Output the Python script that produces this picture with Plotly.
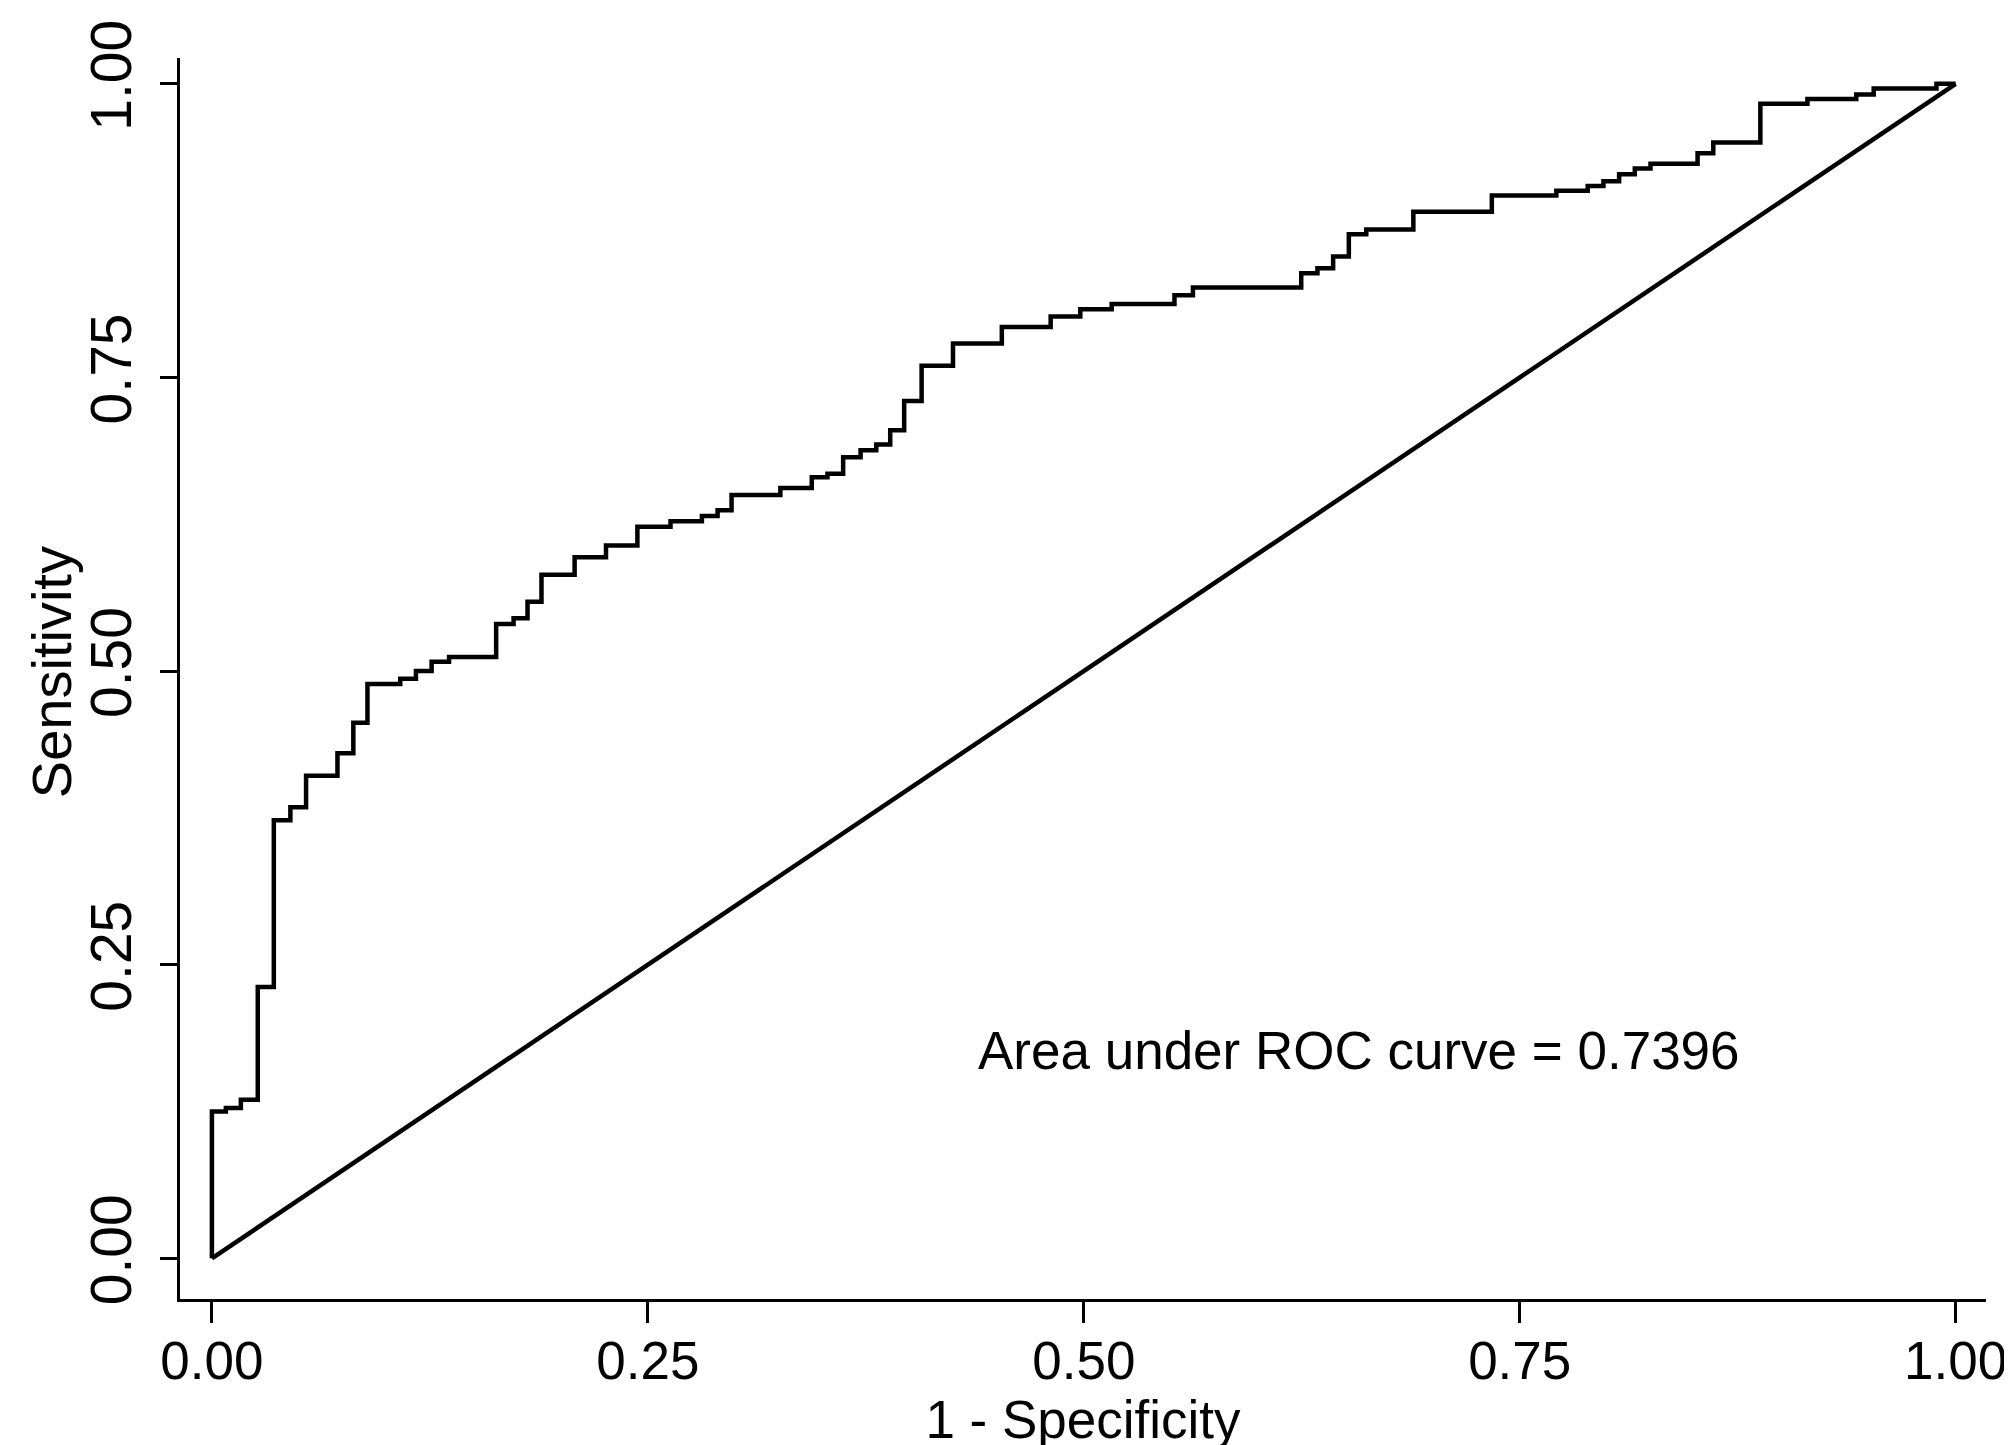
import plotly.graph_objects as go

# ROC curve vertices (1 - specificity, sensitivity); steps drawn horizontal-then-vertical
fpr = [0.0, 0.0, 0.008, 0.0166, 0.0263, 0.0355, 0.045, 0.054, 0.072, 0.0811,
       0.0892, 0.108, 0.117, 0.126, 0.136, 0.163, 0.173, 0.181, 0.189, 0.208,
       0.226, 0.244, 0.263, 0.281, 0.290, 0.298, 0.326, 0.344, 0.353, 0.362,
       0.372, 0.381, 0.389, 0.397, 0.407, 0.425, 0.453, 0.481, 0.498, 0.516,
       0.552, 0.5626, 0.6247, 0.634, 0.643, 0.652, 0.662, 0.689, 0.734, 0.771,
       0.789, 0.798, 0.807, 0.816, 0.825, 0.852, 0.861, 0.888, 0.915, 0.943,
       0.953, 0.989, 1.0]
sens = [0.0, 0.125, 0.128, 0.135, 0.231, 0.373, 0.384, 0.411, 0.430, 0.456,
        0.489, 0.4935, 0.500, 0.508, 0.512, 0.540, 0.545, 0.559, 0.582, 0.597,
        0.607, 0.623, 0.6275, 0.632, 0.637, 0.650, 0.656, 0.665, 0.668, 0.682,
        0.688, 0.693, 0.705, 0.730, 0.760, 0.779, 0.793, 0.802, 0.808, 0.8125,
        0.820, 0.8266, 0.8387, 0.843, 0.853, 0.872, 0.876, 0.891, 0.905, 0.909,
        0.913, 0.917, 0.923, 0.928, 0.932, 0.941, 0.950, 0.983, 0.987, 0.991,
        0.996, 1.0, 1.0]

ref_x = [0.0, 1.0]
ref_y = [0.0, 1.0]

tick_vals = [0.0, 0.25, 0.5, 0.75, 1.0]
tick_text = ["0.00", "0.25", "0.50", "0.75", "1.00"]

auc_label = "Area under ROC curve = 0.7396"
x_title = "1 - Specificity"
y_title = "Sensitivity"

NARROW = "Liberation Sans Narrow, Arial Narrow, Liberation Sans, Arial, sans-serif"
REG = "Liberation Sans, Arial, sans-serif"

fig = go.Figure()
fig.add_trace(go.Scatter(x=fpr, y=sens, mode="lines", line=dict(color="black", width=4.5, shape="hv"),
                         showlegend=False, hoverinfo="skip"))
fig.add_trace(go.Scatter(x=ref_x, y=ref_y, mode="lines", line=dict(color="black", width=4.5),
                         showlegend=False, hoverinfo="skip"))

fig.add_annotation(x=0.438, y=0.177, xref="x", yref="y", text=auc_label, showarrow=False,
                   xanchor="left", yanchor="middle", font=dict(family=NARROW, size=53, color="black"))

# y-axis title placed as a rotated annotation to sit close to the tick labels
fig.add_annotation(x=-0.0715, y=0.505, xref="paper", yref="paper", text=y_title, showarrow=False,
                   textangle=-90, xanchor="center", yanchor="middle",
                   font=dict(family=REG, size=56, color="black"))

fig.update_layout(
    width=2012, height=1445,
    margin=dict(l=172, r=34, t=42, b=154),
    paper_bgcolor="white", plot_bgcolor="white",
    xaxis=dict(range=[-0.0183, 1.0174], tickvals=tick_vals, ticktext=tick_text,
               showgrid=False, zeroline=False, showline=True, linecolor="black", linewidth=3,
               ticks="outside", ticklen=21, tickwidth=2.5, tickcolor="black",
               ticklabelstandoff=-8,
               tickfont=dict(family=NARROW, size=53, color="black"),
               title=dict(text=x_title, font=dict(family=NARROW, size=53, color="black"), standoff=0)),
    yaxis=dict(range=[-0.0346, 1.022], tickvals=tick_vals, ticktext=tick_text, tickangle=-90,
               showgrid=False, zeroline=False, showline=True, linecolor="black", linewidth=3,
               ticks="outside", ticklen=17, tickwidth=2.5, tickcolor="black",
               ticklabelstandoff=6,
               tickfont=dict(family=REG, size=57, color="black")),
)

fig.write_html("out.html")
